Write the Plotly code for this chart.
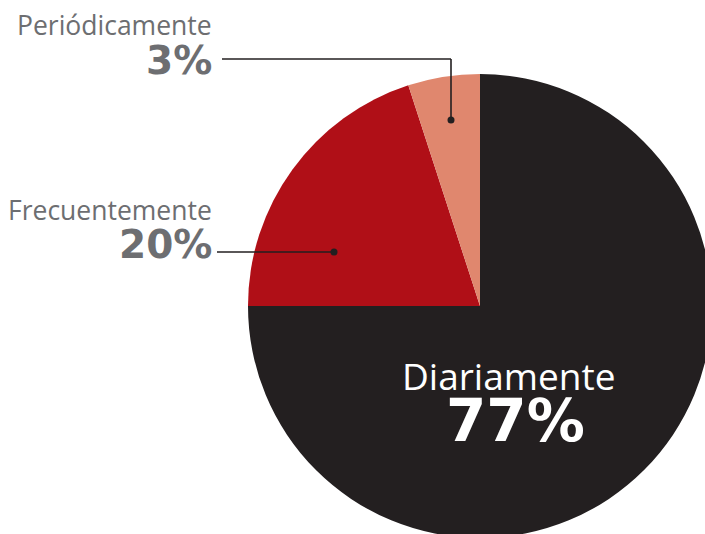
import plotly.graph_objects as go

# slices as drawn (clockwise from 12 o'clock)
categories = ["Diariamente", "Frecuentemente", "Periódicamente"]
slice_shares = [75, 20, 5]
pct_labels = ["77%", "20%", "3%"]
colors = ["#231f20", "#b00f17", "#e0876e"]

W, H = 712, 538
GRAY = "#6d6e71"
DARK = "#231f20"
LABEL_FONT = "Open Sans"
PCT_FONT = "DejaVu Sans"


def px(x):
    return x / W


def py(y):
    return 1 - y / H


fig = go.Figure(
    go.Pie(
        labels=categories,
        values=slice_shares,
        sort=False,
        direction="clockwise",
        rotation=0,
        marker=dict(colors=colors, line=dict(width=0)),
        textinfo="none",
        hoverinfo="label+percent",
        showlegend=False,
        domain=dict(x=[px(248), 1], y=[0, py(74)]),
    )
)

# leader lines + dots
shapes = [
    dict(type="line", x0=px(222), x1=px(451), y0=py(59), y1=py(59)),
    dict(type="line", x0=px(451), x1=px(451), y0=py(59), y1=py(120)),
    dict(type="line", x0=px(217), x1=px(334), y0=py(252), y1=py(252)),
]
for s in shapes:
    s.update(xref="paper", yref="paper", line=dict(color=DARK, width=1.6))
for cx, cy in [(451, 120), (334, 252)]:
    shapes.append(
        dict(
            type="circle", xref="paper", yref="paper",
            x0=px(cx - 3.5), x1=px(cx + 3.5), y0=py(cy - 3.5), y1=py(cy + 3.5),
            fillcolor=DARK, line=dict(width=0),
        )
    )

annotations = [
    # Periódicamente
    dict(x=px(214), y=py(25), text=categories[2], xanchor="right", yanchor="middle",
         font=dict(family=LABEL_FONT, size=26.5, color=GRAY)),
    dict(x=px(214), y=py(60), text="<b>" + pct_labels[2] + "</b>", xanchor="right", yanchor="middle",
         font=dict(family=PCT_FONT, size=39, color=GRAY)),
    # Frecuentemente
    dict(x=px(214), y=py(210), text=categories[1], xanchor="right", yanchor="middle",
         font=dict(family=LABEL_FONT, size=26.5, color=GRAY)),
    dict(x=px(214), y=py(244), text="<b>" + pct_labels[1] + "</b>", xanchor="right", yanchor="middle",
         font=dict(family=PCT_FONT, size=39, color=GRAY)),
    # Diariamente
    dict(x=px(508), y=py(375), text=categories[0], xanchor="center", yanchor="middle",
         font=dict(family=LABEL_FONT, size=37, color="white")),
    dict(x=px(515), y=py(421), text="<b>" + pct_labels[0] + "</b>", xanchor="center", yanchor="middle",
         font=dict(family=PCT_FONT, size=58, color="white")),
]
for a in annotations:
    a.update(xref="paper", yref="paper", showarrow=False)

fig.update_layout(
    width=W,
    height=H,
    margin=dict(l=0, r=0, t=0, b=0),
    paper_bgcolor="white",
    plot_bgcolor="white",
    shapes=shapes,
    annotations=annotations,
)

fig.write_html(
    "out.html",
    config={"displayModeBar": False},
    post_script="document.body.style.margin='0';document.body.style.overflow='hidden';",
)
